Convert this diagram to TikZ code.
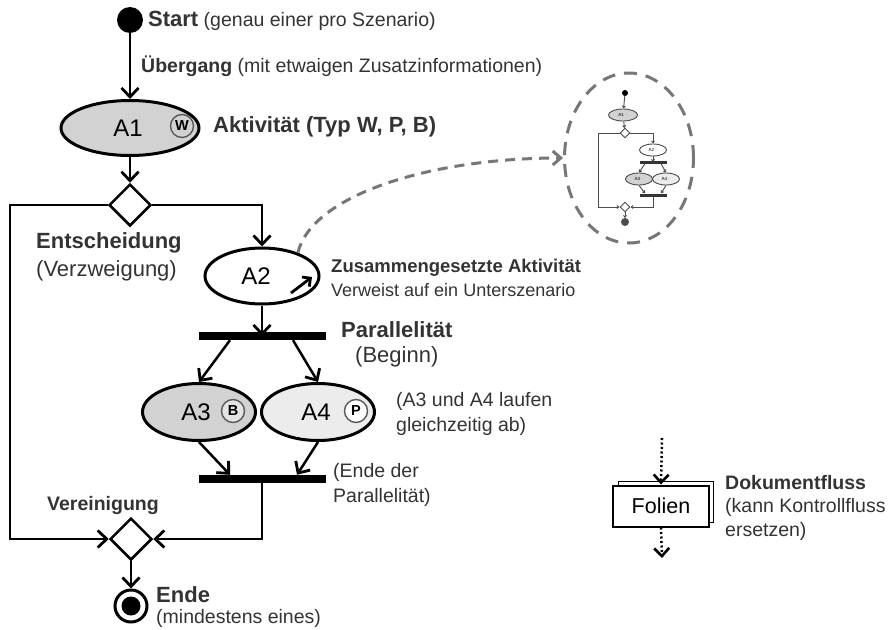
\documentclass[tikz,border=0pt]{standalone}
\usepackage{fontspec}
\setmainfont{Liberation Sans}
\usetikzlibrary{shapes.geometric,arrows.meta}
\definecolor{txt}{HTML}{333333}
\definecolor{actgray}{HTML}{D2D2D2}
\definecolor{actlight}{HTML}{ECECEC}
\definecolor{dashgray}{HTML}{777777}
\newcommand{\fsB}{\fontsize{22}{26}\selectfont\bfseries}
\newcommand{\fsR}{\fontsize{19.5}{24}\selectfont}
\newcommand{\fsBs}{\fontsize{19.5}{24}\selectfont\bfseries}
\tikzset{
  arr/.style={draw, line width=2.5pt, -{Straight Barb[length=9pt,width=17pt,line width=2.8pt]}},
  act/.style={ellipse, draw, line width=3pt, inner sep=0pt},
  dia/.style={diamond, draw, line width=2.5pt, fill=white, inner sep=0pt, minimum width=42pt, minimum height=42pt},
  bar/.style={rectangle, fill=black, inner sep=0pt, minimum width=127pt, minimum height=8pt},
  acttext/.style={inner sep=0pt, font=\fontsize{24}{28}\selectfont},
  badge/.style={circle, draw=black!65, line width=1.4pt, inner sep=0pt, minimum size=23pt, font=\fontsize{14.5}{16}\selectfont\bfseries},
  lbl/.style={anchor=west, inner sep=0pt, text=txt, font=\fsR},
  lblb/.style={anchor=west, inner sep=0pt, text=txt, font=\fsB},
  lblbs/.style={anchor=west, inner sep=0pt, text=txt, font=\fsBs},
  miniarr/.style={draw=black!70, line width=0.9pt, -{Straight Barb[length=2pt,width=3pt]}},
  miniact/.style={ellipse, draw=black!70, line width=0.9pt, inner sep=0pt, minimum width=29pt, minimum height=12pt, font=\fontsize{4.5}{5}\selectfont},
  minidia/.style={diamond, draw=black!70, line width=0.9pt, fill=white, inner sep=0pt, minimum width=10pt, minimum height=10pt},
  minibar/.style={rectangle, fill=black!80, inner sep=0pt, minimum width=27pt, minimum height=3pt},
  dotarr/.style={draw, line width=2.5pt, dash pattern=on 2pt off 2.5pt, -{Straight Barb[length=8pt,width=15pt,line width=2.6pt]}},
}
\begin{document}
\begin{tikzpicture}[x=1pt,y=-1pt]
\useasboundingbox (0,0) rectangle (888,629);

% ---------- main flow ----------
\node[circle, fill=black, inner sep=0pt, minimum size=26pt] (start) at (130,20) {};
\node[act, fill=actgray, minimum width=138pt, minimum height=55pt] (A1) at (130,128) {};
\node[acttext] (A1t) at (128,128) {A1};
\node[badge, fill=actgray] (A1b) at (182,126) {W};

\node[dia] (D1) at (130,205) {};
\coordinate (L1) at (10,205);
\coordinate (L2) at (10,539);

\node[act, fill=white, minimum width=114pt, minimum height=56pt] (A2) at (262,276) {};
\node[acttext] (A2t) at (256,276) {A2};
\coordinate (A2a) at (291,293);
\coordinate (A2b) at (312,277);

\node[bar] (B1) at (262,336) {};
\node[act, fill=actgray, minimum width=113pt, minimum height=57pt] (A3) at (199,412) {};
\node[acttext] (A3t) at (196,412) {A3};
\node[badge, fill=actgray!60] (A3b) at (233,411) {B};
\node[act, fill=actlight, minimum width=113pt, minimum height=57pt] (A4) at (318,412) {};
\node[acttext] (A4t) at (316,412) {A4};
\node[badge, fill=white] (A4b) at (356,411) {P};
\node[bar] (B2) at (262,479) {};
\coordinate (R2) at (262,539);

\node[dia] (D2) at (131,539) {};
\node[circle, draw, line width=3pt, fill=white, inner sep=0pt, minimum size=32pt] (E) at (131,606) {};
\node[circle, fill=black, inner sep=0pt, minimum size=19pt] (Ei) at (131,606) {};

\draw[arr] (start) -- (A1);
\draw[arr] (A1) -- (D1);
\draw[arr] (D1.east) -| (A2.north);
\draw[arr] (D1.west) -- (L1) -- (L2) -- (D2.west);
\draw[arr] (A2) -- (B1.center);
\draw[line width=2.8pt, -{Straight Barb[length=6pt,width=12pt,line width=2.8pt]}] (A2a) -- (A2b);
\draw[arr] ([xshift=-32pt]B1.south) -- (A3.north);
\draw[arr] ([xshift=31pt]B1.south) -- (A4.north);
\draw[arr] (A3.south) -- ([xshift=-32pt]B2.north);
\draw[arr] (A4.south) -- ([xshift=35pt]B2.north);
\draw[arr] (B2.south) -- (R2) -- (D2.east);
\draw[arr] (D2) -- (E);

% ---------- labels ----------
\node[lbl] (tStart) at (148,21) {{\fsB Start} (genau einer pro Szenario)};
\node[lbl] (tUeb) at (141,66) {{\fsBs Übergang} (mit etwaigen Zusatzinformationen)};
\node[lblb] (tAkt) at (213,127) {Aktivität (Typ W, P, B)};
\node[lblb] (tEnt) at (36,243) {Entscheidung};
\node[lbl, font=\fontsize{22}{26}\selectfont] (tVerz) at (36,271) {(Verzweigung)};
\node[lblb, font=\fontsize{18.5}{22}\selectfont\bfseries] (tZus) at (331,268) {Zusammengesetzte Aktivität};
\node[lbl, font=\fontsize{18}{22}\selectfont] (tVerw) at (331,290) {Verweist auf ein Unterszenario};
\node[lblb] (tPar) at (341,330) {Parallelität};
\node[lbl, font=\fontsize{22}{26}\selectfont] (tBeg) at (355,357) {(Beginn)};
\node[lbl] (tA34a) at (396,401) {(A3 und A4 laufen};
\node[lbl] (tA34b) at (396,426) {gleichzeitig ab)};
\node[lbl] (tEndPa) at (333,472) {(Ende der};
\node[lbl] (tEndPb) at (333,497) {Parallelität)};
\node[lblbs] (tVer) at (47,505) {Vereinigung};
\node[lblb] (tEnde) at (156,595) {Ende};
\node[lbl] (tMind) at (156,618) {(mindestens eines)};

% ---------- sub-scenario zoom ----------
\node[ellipse, draw=dashgray, line width=3pt, dash pattern=on 13pt off 9pt, minimum width=129pt, minimum height=170pt] (DC) at (629,158) {};
\draw[draw=dashgray, line width=3pt, dash pattern=on 10pt off 7pt, -{Straight Barb[length=8pt,width=14pt,line width=3pt]}]
  (A2.33) .. controls (312,195) and (430,158) .. (DC.west);

\node[circle, fill=black, inner sep=0pt, minimum size=6pt] (ms) at (625,93) {};
\node[miniact, fill=actgray] (mA1) at (623,115) {A1\,\,$\cdot$};
\node[minidia] (mD1) at (625,133) {};
\node[miniact, fill=white, minimum width=27pt] (mA2) at (653,150) {A2\,$\cdot$};
\node[minibar] (mB1) at (653,162) {};
\node[miniact, fill=actgray, minimum width=27pt] (mA3) at (639,179) {A3\,$\cdot$};
\node[miniact, fill=actlight, minimum width=27pt] (mA4) at (666,179) {A4\,$\cdot$};
\node[minibar] (mB2) at (653,195) {};
\node[minidia] (mD2) at (625,207) {};
\node[circle, draw=black!70, line width=0.9pt, fill=black!70, inner sep=0pt, minimum size=7pt] (mE) at (625,222) {};
\coordinate (mL1) at (598,133);
\coordinate (mL2) at (598,207);
\coordinate (mR2) at (653,207);
\draw[miniarr] (ms) -- (mA1);
\draw[miniarr] (mA1) -- (mD1);
\draw[miniarr] (mD1.east) -| (mA2.north);
\draw[miniarr] (mD1.west) -- (mL1) -- (mL2) -- (mD2.west);
\draw[miniarr] (mA2) -- (mB1.center);
\draw[miniarr] ([xshift=-8pt]mB1.south) -- (mA3.north);
\draw[miniarr] ([xshift=8pt]mB1.south) -- (mA4.north);
\draw[miniarr] (mA3.south) -- ([xshift=-8pt]mB2.north);
\draw[miniarr] (mA4.south) -- ([xshift=8pt]mB2.north);
\draw[miniarr] (mB2.south) -- (mR2) -- (mD2.east);
\draw[miniarr] (mD2) -- (mE);

% ---------- document flow ----------
\node[rectangle, draw, line width=1.5pt, fill=white, minimum width=95pt, minimum height=41pt] (Fb) at (666,502) {};
\node[rectangle, draw, line width=2pt, fill=white, minimum width=96pt, minimum height=41pt, font=\fontsize{21.5}{26}\selectfont] (F) at (661,506) {Folien};
\coordinate (F1) at (662,438);
\coordinate (F2) at (662,558);
\draw[dotarr] (F1) -- (F.north);
\draw[dotarr] (F.south) -- (F2);
\node[lblbs] (tDok) at (725,483) {Dokumentfluss};
\node[lbl] (tKann) at (725,507) {(kann Kontrollfluss};
\node[lbl] (tErs) at (725,531) {ersetzen)};
\end{tikzpicture}
\end{document}
